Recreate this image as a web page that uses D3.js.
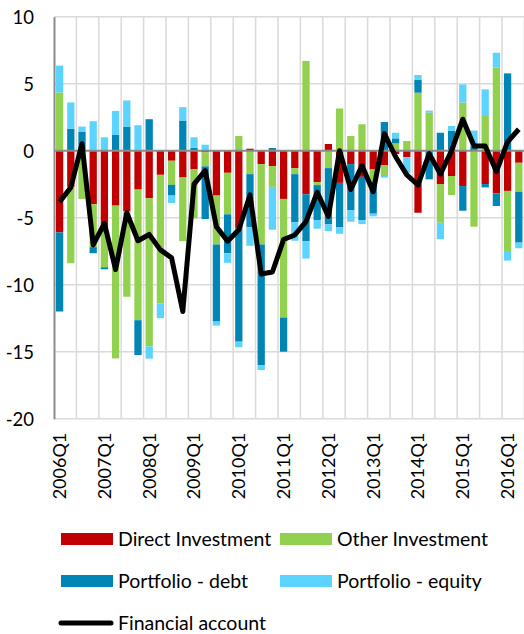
<!DOCTYPE html>
<html>
<head>
<meta charset="utf-8">
<script src="https://cdn.jsdelivr.net/npm/d3@7"></script>
<style>
  html, body { margin: 0; padding: 0; background: #ffffff; }
  svg { display: block; }
  text { font-family: Lato, "Open Sans", sans-serif; fill: #000; }
</style>
</head>
<body>
<div id="chart"></div>
<script>
// Quarterly flows, 2006Q1 – 2016Q2
const quarters = [];
for (let yr = 2006; yr <= 2016; yr++) {
  for (let q = 1; q <= 4; q++) {
    if (yr === 2016 && q > 2) break;
    quarters.push(yr + "Q" + q);
  }
}

const directInvestment = [
  -6.1, -2.7, -0.1, -4.0, -6.05, -4.1, -4.5, -2.9,
  -3.55, -1.8, -0.75, -2.0, -1.4, -0.12, -3.35, -1.65,
  -5.8, 0.15, -1.0, -1.15, -3.6, -1.3, -3.25, -2.35,
  0.5, -2.4, -1.0, -1.95, -1.4, -1.07, -0.25, -0.48,
  -4.63, 0.0, -2.49, -1.89, -2.64, 0.0, -2.49, -3.18,
  -3.0, -0.9
];
const otherInvestment = [
  4.35, -5.7, -3.5, -3.2, -2.65, -11.4, -6.4, -9.75,
  -11.05, -9.6, -1.8, -4.75, -3.65, -1.05, -3.65, -3.1,
  1.1, -1.75, -6.0, -1.55, -8.85, -0.45, 6.7, -0.22,
  -1.3, 3.15, 1.1, 1.97, -0.9, -0.82, 0.55, 0.72,
  4.33, 2.84, -2.89, -1.42, 3.6, -5.67, 2.59, 6.22,
  -4.48, -2.16
];
const portfolioDebt = [
  -5.9, 1.65, 1.4, -0.45, -0.15, 1.17, 1.8, -2.6,
  2.35, 0.0, -0.8, 2.25, 0.22, -3.93, -5.75, -2.9,
  -8.45, -3.95, -9.0, 0.2, -2.55, -3.6, -3.5, -2.6,
  -4.2, -3.3, -3.43, -3.23, -2.4, 2.14, 0.37, 0.0,
  0.95, -2.14, 1.34, 1.49, -1.84, 0.3, -0.25, -0.95,
  5.77, -3.8
];
const portfolioEquity = [
  2.0, 1.95, 0.4, 2.2, 1.0, 1.8, 1.95, 1.9,
  -0.92, -1.1, -0.55, 1.0, 0.78, 0.45, -0.3, -0.72,
  -0.42, -1.4, -0.37, -3.2, 0.0, -1.37, -1.3, -0.65,
  -0.5, -0.5, -0.87, -0.3, -0.2, -0.12, 0.42, -1.19,
  0.37, 0.15, -1.22, 0.35, 1.35, 1.2, 1.99, 1.09,
  -0.72, -0.42
];
const financialAccount = [
  -3.82, -2.74, 0.52, -7.03, -5.43, -8.87, -4.63, -6.72,
  -6.25, -7.4, -8.0, -12.0, -2.5, -1.48, -5.67, -6.75,
  -5.9, -3.3, -9.2, -9.05, -6.63, -6.29, -5.3, -3.1,
  -4.9, 0.0, -2.9, -1.1, -3.06, 1.28, -0.45, -1.8,
  -2.56, -0.22, -1.75, 0.0, 2.35, 0.35, 0.35, -1.56,
  0.67, 1.6
];

const yTicks = [10, 5, 0, -5, -10, -15, -20];
const xTickLabels = quarters.filter(q => q.endsWith("Q1"));

const seriesNames = ["Direct Investment", "Other Investment", "Portfolio - debt", "Portfolio - equity"];
const seriesColors = ["#C00000", "#92D050", "#0085B5", "#5DD3FF"];
const lineName = "Financial account";

// ---- table for stacking
const rows = quarters.map((q, i) => ({
  quarter: q,
  "Direct Investment": directInvestment[i],
  "Other Investment": otherInvestment[i],
  "Portfolio - debt": portfolioDebt[i],
  "Portfolio - equity": portfolioEquity[i]
}));

const W = 524, H = 634;
const plotLeft = 54, plotRight = 524.4, plotTop = 16.7, plotBottom = 418.7;

const svg = d3.select("#chart").append("svg")
  .attr("width", W).attr("height", H);

svg.append("rect").attr("width", W).attr("height", H).attr("fill", "#fff");

const x = d3.scaleBand()
  .domain(quarters)
  .range([plotLeft, plotRight])
  .paddingInner(0.35)
  .paddingOuter(0.175);

const y = d3.scaleLinear().domain([-20, 10]).range([plotBottom, plotTop]);

// ---- gridlines
const grid = svg.append("g");
grid.selectAll("line.h")
  .data(yTicks.filter(t => t !== 0))
  .join("line")
  .attr("x1", plotLeft).attr("x2", W)
  .attr("y1", d => y(d)).attr("y2", d => y(d))
  .attr("stroke", "#DADADA").attr("stroke-width", 1.5);

const step = x.step();
const vLines = d3.range(2, quarters.length + 1, 2).map(k => plotLeft + k * step);
grid.selectAll("line.v")
  .data(vLines)
  .join("line")
  .attr("x1", d => d).attr("x2", d => d)
  .attr("y1", plotTop).attr("y2", plotBottom)
  .attr("stroke", "#DADADA").attr("stroke-width", 1.5);

// ---- stacked bars (positives up, negatives down)
const stack = d3.stack()
  .keys(seriesNames)
  .offset(d3.stackOffsetDiverging);
const stacked = stack(rows);

svg.append("g").selectAll("g")
  .data(stacked)
  .join("g")
  .attr("fill", (d, i) => seriesColors[i])
  .selectAll("rect")
  .data(d => d)
  .join("rect")
  .attr("x", d => x(d.data.quarter))
  .attr("width", x.bandwidth())
  .attr("y", d => y(Math.max(d[0], d[1])))
  .attr("height", d => Math.abs(y(d[0]) - y(d[1])));

// ---- axes
const yAxis = d3.axisLeft(y).tickValues(yTicks).tickSize(0).tickPadding(0)
  .tickFormat(d => String(d));
const gy = svg.append("g").attr("transform", `translate(${plotLeft},0)`).call(yAxis);
gy.select(".domain").attr("stroke", "#8C8C8C").attr("stroke-width", 2);
gy.selectAll("text")
  .attr("x", -20)
  .attr("dy", "0.35em")
  .style("font-size", "18.5px")
  .style("font-family", "Lato, sans-serif")
  .attr("fill", "#000");

// zero line
svg.append("line")
  .attr("x1", plotLeft).attr("x2", W)
  .attr("y1", y(0)).attr("y2", y(0))
  .attr("stroke", "#8C8C8C").attr("stroke-width", 2);

const xAxis = d3.axisBottom(x).tickValues(xTickLabels).tickSize(0).tickPadding(0);
const gx = svg.append("g").attr("transform", `translate(0,${plotBottom})`).call(xAxis);
gx.select(".domain").remove();
gx.selectAll("text")
  .attr("transform", "rotate(-90)")
  .attr("text-anchor", "end")
  .attr("x", -14)
  .attr("y", 0)
  .attr("dy", "0.35em")
  .style("font-size", "18px")
  .style("font-family", "Lato, sans-serif")
  .attr("fill", "#000");

// ---- financial account line
const line = d3.line()
  .x((d, i) => x(quarters[i]) + x.bandwidth() / 2)
  .y(d => y(d));

svg.append("path")
  .datum(financialAccount)
  .attr("d", line)
  .attr("fill", "none")
  .attr("stroke", "#000")
  .attr("stroke-width", 5)
  .attr("stroke-linejoin", "round");

// ---- legend
const legendItems = [
  { name: seriesNames[0], color: seriesColors[0], x: 61, y: 539 },
  { name: seriesNames[1], color: seriesColors[1], x: 280, y: 539 },
  { name: seriesNames[2], color: seriesColors[2], x: 61, y: 581 },
  { name: seriesNames[3], color: seriesColors[3], x: 280, y: 581 }
];
const legend = svg.append("g");
legendItems.forEach(it => {
  legend.append("rect")
    .attr("x", it.x).attr("y", it.y - 6)
    .attr("width", 52).attr("height", 12)
    .attr("fill", it.color);
  legend.append("text")
    .attr("x", it.x + 57).attr("y", it.y)
    .attr("dy", "0.35em")
    .style("font-size", "19.5px")
    .text(it.name);
});
legend.append("line")
  .attr("x1", 61).attr("x2", 111)
  .attr("y1", 623).attr("y2", 623)
  .attr("stroke", "#000").attr("stroke-width", 5)
  .attr("stroke-linecap", "round");
legend.append("text")
  .attr("x", 118).attr("y", 623)
  .attr("dy", "0.35em")
  .style("font-size", "19.5px")
  .text(lineName);
</script>
</body>
</html>
